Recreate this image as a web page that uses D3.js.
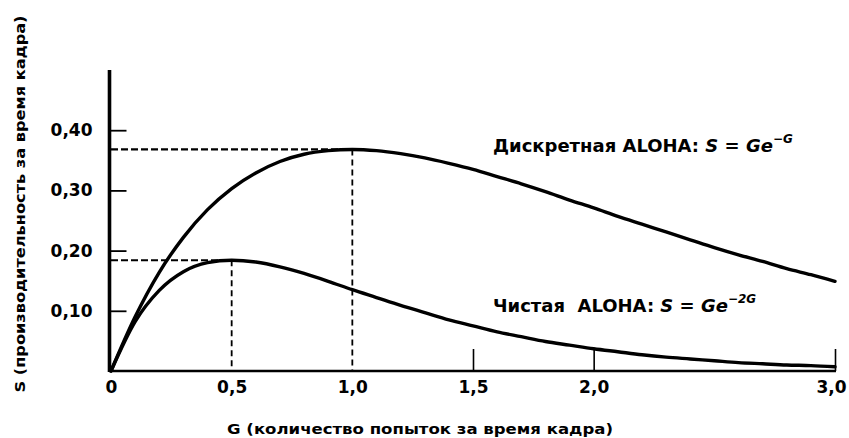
<!DOCTYPE html>
<html>
<head>
<meta charset="utf-8">
<script src="https://cdn.jsdelivr.net/npm/d3@7"></script>
<style>
  html, body { margin: 0; padding: 0; background: #fff; }
  svg { display: block; }
  text { fill: #000; }
</style>
</head>
<body>
<svg id="chart" width="849" height="438"></svg>
<script>
// ---- data ----
const gValues = [0, 0.1, 0.2, 0.3, 0.4, 0.5, 0.6, 0.7, 0.8, 0.9, 1.0,
                 1.1, 1.2, 1.3, 1.4, 1.5, 1.6, 1.7, 1.8, 1.9, 2.0,
                 2.1, 2.2, 2.3, 2.4, 2.5, 2.6, 2.7, 2.8, 2.9, 3.0];
// Slotted ALOHA: S = G e^-G
const slottedS = [0, 0.090, 0.164, 0.222, 0.268, 0.303, 0.329, 0.348, 0.360, 0.366, 0.368,
                  0.366, 0.361, 0.354, 0.345, 0.335, 0.323, 0.311, 0.298, 0.284, 0.271,
                  0.257, 0.244, 0.231, 0.218, 0.205, 0.193, 0.182, 0.170, 0.160, 0.149];
// Pure ALOHA: S = G e^-2G
const pureS = [0, 0.082, 0.134, 0.165, 0.180, 0.184, 0.181, 0.173, 0.162, 0.149, 0.135,
               0.122, 0.109, 0.097, 0.085, 0.075, 0.065, 0.057, 0.049, 0.043, 0.037,
               0.032, 0.027, 0.023, 0.020, 0.017, 0.014, 0.012, 0.010, 0.009, 0.007];

const xTickValues = [0, 0.5, 1.0, 1.5, 2.0, 3.0];
const xTickLabels = ["0", "0,5", "1,0", "1,5", "2,0", "3,0"];
const xTickMarks  = [1.5, 2.0, 3.0];
const yTickValues = [0.1, 0.2, 0.3, 0.4];
const yTickLabels = ["0,10", "0,20", "0,30", "0,40"];

// peaks marked with dashed guide lines
const slottedPeak = { g: 1.0, s: 0.368 };
const purePeak    = { g: 0.5, s: 0.184 };

const xTitle = "G (количество попыток за время кадра)";
const yTitle = "S (производительность за время кадра)";

// ---- layout ----
const svg = d3.select("#chart");
const x = d3.scaleLinear().domain([0, 3]).range([111, 835]);
const y = d3.scaleLinear().domain([0, 0.5]).range([371, 70]);
const FONT = "'DejaVu Sans', sans-serif";

// curves
const line = d3.line()
  .x((d, i) => x(gValues[i]))
  .y(d => y(d))
  .curve(d3.curveMonotoneX);

// dashed guides
const guides = svg.append("g")
  .attr("stroke", "#000").attr("fill", "none");
[slottedPeak, purePeak].forEach(p => {
  guides.append("line")
    .attr("x1", x(0)).attr("x2", x(p.g))
    .attr("y1", y(p.s)).attr("y2", y(p.s))
    .attr("stroke-width", 2.2)
    .attr("stroke-dasharray", "7,3");
  guides.append("line")
    .attr("x1", x(p.g)).attr("x2", x(p.g))
    .attr("y1", y(p.s)).attr("y2", y(0))
    .attr("stroke-width", 1.8)
    .attr("stroke-dasharray", "6,4");
});

svg.append("path").datum(slottedS)
  .attr("d", line).attr("fill", "none").attr("stroke", "#000")
  .attr("stroke-width", 3.4).attr("stroke-linecap", "round");
svg.append("path").datum(pureS)
  .attr("d", line).attr("fill", "none").attr("stroke", "#000")
  .attr("stroke-width", 3.4).attr("stroke-linecap", "round");

// x axis labels
const xAxisG = svg.append("g").attr("transform", `translate(0,${y(0)})`)
  .call(d3.axisBottom(x).tickValues(xTickValues)
    .tickFormat((d, i) => xTickLabels[i]).tickSize(0).tickPadding(10));
xAxisG.select(".domain").remove();
xAxisG.selectAll("text")
  .attr("font-family", FONT).attr("font-weight", "bold").attr("font-size", 17)
  .attr("fill", "#000")
  .attr("dx", d => d === 3 ? -4 : 0);

// x tick marks (upward)
const xMarks = svg.append("g").attr("transform", `translate(0,${y(0)})`)
  .call(d3.axisBottom(x).tickValues(xTickMarks).tickFormat("").tickSize(-22).tickSizeOuter(0));
xMarks.select(".domain").remove();
xMarks.selectAll("line").attr("stroke", "#000").attr("stroke-width", 1.6);

// x axis line
svg.append("line")
  .attr("x1", x(0) - 2).attr("x2", x(3) + 1)
  .attr("y1", y(0)).attr("y2", y(0))
  .attr("stroke", "#000").attr("stroke-width", 2.4);

// y axis
const yAxisG = svg.append("g").attr("transform", `translate(${x(0) - 1.5},0)`)
  .call(d3.axisLeft(y).tickValues(yTickValues)
    .tickFormat((d, i) => yTickLabels[i]).tickSize(-17).tickPadding(17).tickSizeOuter(0));
yAxisG.select(".domain").remove();
yAxisG.selectAll("line").attr("stroke", "#000").attr("stroke-width", 1.8);
yAxisG.selectAll("text")
  .attr("font-family", FONT).attr("font-weight", "bold").attr("font-size", 17)
  .attr("fill", "#000");

svg.append("line")
  .attr("x1", x(0) - 1.5).attr("x2", x(0) - 1.5)
  .attr("y1", y(0) + 1).attr("y2", y(0.5))
  .attr("stroke", "#000").attr("stroke-width", 3.6);

// axis titles
svg.append("text")
  .attr("x", 420).attr("y", 434)
  .attr("text-anchor", "middle")
  .attr("font-family", FONT).attr("font-weight", "bold").attr("font-size", 14)
  .attr("textLength", 386).attr("lengthAdjust", "spacingAndGlyphs")
  .text(xTitle);

svg.append("text")
  .attr("transform", "translate(25,204) rotate(-90)")
  .attr("text-anchor", "middle")
  .attr("font-family", FONT).attr("font-weight", "bold").attr("font-size", 14)
  .attr("textLength", 377).attr("lengthAdjust", "spacingAndGlyphs")
  .text(yTitle);

// curve annotations
function formulaLabel(px, py, name, exp) {
  const t = svg.append("text")
    .attr("x", px).attr("y", py)
    .attr("font-family", FONT).attr("font-size", 18).attr("font-weight", "bold");
  t.append("tspan").text(name + " ");
  t.append("tspan").attr("font-style", "italic").text("S");
  t.append("tspan").text(" = ");
  t.append("tspan").attr("font-style", "italic").text("Ge");
  t.append("tspan").attr("font-style", "italic").attr("font-size", 12)
    .attr("dy", -9).text(exp);
  return t;
}
formulaLabel(493, 152, "Дискретная ALOHA:", "−G");
formulaLabel(493, 312, "Чистая  ALOHA:", "−2G").attr("xml:space", "preserve");
</script>
</body>
</html>
